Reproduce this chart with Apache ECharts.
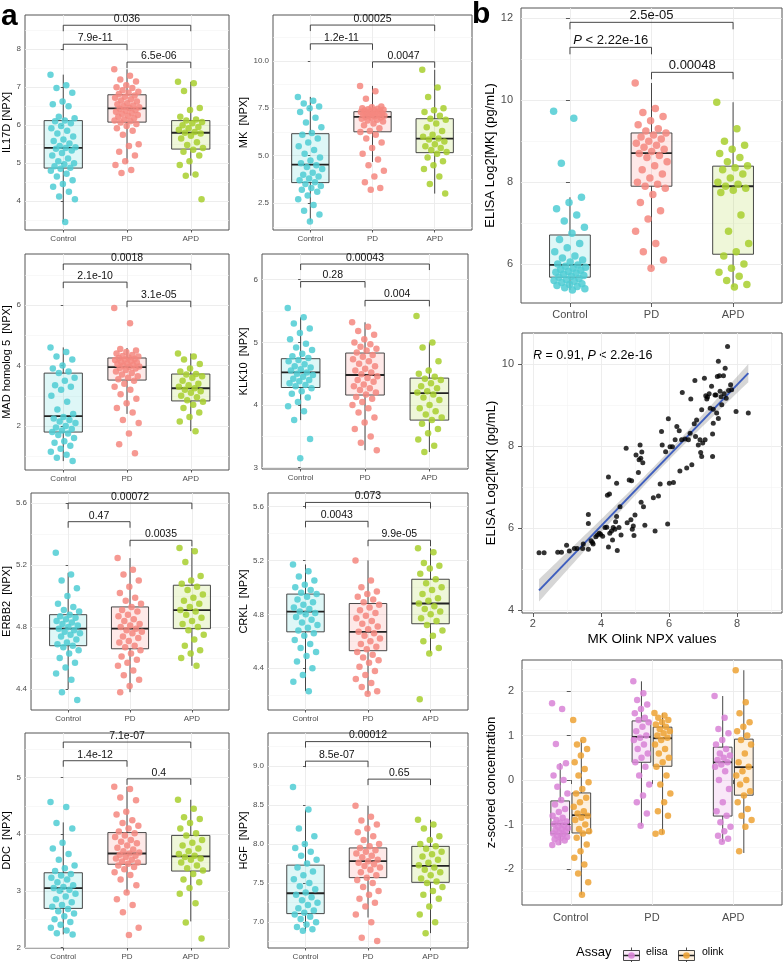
<!DOCTYPE html>
<html>
<head>
<meta charset="utf-8">
<script src="https://cdn.jsdelivr.net/npm/echarts@6/dist/echarts.min.js"></script>
<style>html,body{margin:0;padding:0;background:#fff}#main{width:784px;height:962px}</style>
</head>
<body>
<div id="main"></div>
<script>
// ---------- data ----------
var groups = ['Control', 'PD', 'APD']
var pairs = [[0, 1], [1, 2], [0, 2]]

var il17dControl = [7.33,7.05,6.98,6.85,6.62,6.55,6.50,6.22,6.18,6.12,6.10,6.05,5.98,5.92,5.85,5.78,5.70,5.62,5.58,5.52,5.45,5.42,5.40,5.38,5.33,5.27,5.20,5.12,5.05,5.00,4.97,4.92,4.88,4.85,4.80,4.72,4.65,4.55,4.45,4.38,4.25,4.12,4.05,3.45]
var il17dPD = [7.47,7.30,7.20,7.15,7.05,7.00,6.98,6.92,6.88,6.85,6.82,6.78,6.75,6.72,6.68,6.65,6.62,6.58,6.55,6.52,6.50,6.47,6.45,6.43,6.40,6.38,6.35,6.32,6.30,6.27,6.25,6.22,6.18,6.15,6.12,6.10,6.07,6.03,5.98,5.92,5.85,5.75,5.50,5.45,5.30,5.20,5.05,4.95,4.82,4.74]
var il17dAPD = [7.14,7.10,6.90,6.45,6.40,6.22,6.15,6.12,6.08,6.05,6.00,5.95,5.92,5.88,5.82,5.80,5.78,5.72,5.65,5.55,5.48,5.40,5.35,5.30,5.20,5.05,4.95,4.70,4.67,4.05]
var il17dBox = [[3.45,4.87,5.40,6.12,7.33],[5.00,6.08,6.44,6.80,7.47],[4.67,5.37,5.80,6.12,7.14]]
var il17dP = ['7.9e-11','6.5e-06','0.036']
var il17dPy = [8.13,7.66,8.63]
var il17dTicks = ['4','5','6','7','8']

var mkControl = [8.1,7.9,7.75,7.6,7.5,7.3,7.0,6.75,6.5,6.2,6.1,5.9,5.7,5.5,5.3,5.1,4.9,4.75,4.6,4.5,4.4,4.3,4.1,4.0,3.9,3.8,3.7,3.6,3.5,3.4,3.3,3.2,3.1,2.9,2.7,2.4,2.1,1.9,1.53]
var mkPD = [8.68,8.4,8.0,7.6,7.55,7.5,7.48,7.45,7.42,7.4,7.38,7.35,7.33,7.3,7.28,7.25,7.22,7.2,7.18,7.15,7.12,7.1,7.08,7.05,7.02,7.0,6.95,6.9,6.85,6.8,6.7,6.6,6.45,6.3,6.25,6.1,5.9,5.7,5.4,5.1,4.8,4.5,4.2,3.9,3.6,3.3,3.2]
var mkAPD = [9.53,8.6,8.1,7.5,7.4,7.3,7.1,6.95,6.9,6.7,6.5,6.3,6.1,6.0,5.9,5.85,5.75,5.6,5.5,5.4,5.3,5.2,5.1,4.9,4.7,4.5,4.3,3.9,3.5,3.0]
var mkBox = [[1.53,3.58,4.53,6.16,8.10],[4.67,6.26,7.05,7.32,8.68],[3.00,5.16,5.90,6.95,9.53]]
var mkP = ['1.2e-11','0.0047','0.00025']
var mkPy = [10.9,9.95,11.89]
var mkTicks = ['2.5','5.0','7.5','10.0']

var madControl = [4.6,4.45,4.3,4.2,4.0,3.9,3.8,3.75,3.6,3.5,3.35,3.3,3.2,3.0,2.8,2.55,2.4,2.3,2.25,2.2,2.15,2.1,2.0,1.95,1.9,1.85,1.8,1.75,1.7,1.6,1.5,1.45,1.35,1.25,1.15,1.05,0.95,0.84]
var madPD = [5.9,5.4,4.55,4.5,4.45,4.4,4.35,4.32,4.3,4.27,4.25,4.22,4.2,4.18,4.15,4.12,4.1,4.07,4.05,4.02,4.0,3.97,3.95,3.92,3.9,3.85,3.8,3.75,3.7,3.65,3.6,3.55,3.5,3.4,3.3,3.2,3.05,2.9,2.75,2.6,2.45,2.2,2.1,1.75,1.4,1.1]
var madAPD = [4.4,4.3,4.2,4.05,3.9,3.8,3.72,3.7,3.65,3.6,3.5,3.4,3.35,3.3,3.25,3.2,3.15,3.1,3.0,2.95,2.85,2.8,2.7,2.6,2.45,2.3,2.15,1.83]
var madBox = [[0.84,1.80,2.33,3.75,4.60],[2.40,3.52,3.95,4.25,4.58],[1.83,2.83,3.25,3.72,4.40]]
var madP = ['2.1e-10','3.1e-05','0.0018']
var madPy = [6.76,6.13,7.36]
var madTicks = ['2','4','6']

var klk10Control = [5.55,5.4,5.3,5.22,5.15,5.05,4.98,4.92,4.88,4.82,4.78,4.75,4.72,4.7,4.65,4.62,4.6,4.57,4.55,4.52,4.5,4.48,4.45,4.42,4.4,4.38,4.35,4.32,4.3,4.27,4.22,4.18,4.12,4.05,3.98,3.9,3.76,3.46,3.15]
var klk10PD = [5.32,5.25,5.18,5.12,5.05,5.0,4.97,4.93,4.9,4.87,4.84,4.8,4.77,4.73,4.7,4.66,4.62,4.58,4.55,4.52,4.49,4.46,4.43,4.4,4.37,4.33,4.3,4.27,4.24,4.2,4.17,4.13,4.1,4.05,4.0,3.95,3.88,3.8,3.72,3.62,3.5,3.4,3.28]
var klk10APD = [5.42,5.0,4.92,4.7,4.55,4.5,4.45,4.42,4.4,4.35,4.3,4.27,4.22,4.2,4.17,4.12,4.08,4.0,3.95,3.9,3.85,3.8,3.76,3.7,3.62,3.55,3.45,3.35,3.25]
var klk10Box = [[3.76,4.28,4.52,4.74,5.40],[3.28,4.16,4.48,4.83,5.32],[3.25,3.76,4.19,4.43,5.00]]
var klk10P = ['0.28','0.004','0.00043']
var klk10Py = [5.97,5.67,6.25]
var klk10Ticks = ['3','4','5','6']

var erbb2Control = [5.28,5.14,5.1,5.05,5.0,4.95,4.93,4.91,4.9,4.88,4.87,4.86,4.85,4.84,4.83,4.82,4.81,4.8,4.79,4.78,4.77,4.76,4.75,4.74,4.72,4.7,4.69,4.68,4.67,4.65,4.63,4.6,4.57,4.54,4.5,4.46,4.38,4.33]
var erbb2PD = [5.245,5.17,5.14,5.1,5.06,5.02,4.99,4.97,4.95,4.93,4.91,4.9,4.88,4.87,4.85,4.84,4.82,4.81,4.8,4.79,4.78,4.77,4.76,4.74,4.73,4.71,4.7,4.68,4.67,4.65,4.63,4.61,4.59,4.57,4.55,4.52,4.49,4.46,4.42,4.38]
var erbb2APD = [5.31,5.29,5.22,5.13,5.1,5.08,5.06,5.04,5.01,4.99,4.97,4.95,4.93,4.91,4.9,4.88,4.86,4.84,4.82,4.8,4.78,4.75,4.72,4.68,4.65,4.63,4.6,4.55]
var erbb2Box = [[4.40,4.68,4.79,4.88,5.15],[4.38,4.66,4.79,4.93,5.245],[4.55,4.79,4.91,5.07,5.31]]
var erbb2P = ['0.47','0.0035','0.00072']
var erbb2Py = [5.48,5.36,5.60]
var erbb2Ticks = ['4.4','4.8','5.2','5.6']

var crklControl = [5.17,5.12,5.08,5.05,5.02,5.0,4.98,4.96,4.95,4.93,4.91,4.89,4.87,4.85,4.84,4.82,4.81,4.8,4.78,4.76,4.74,4.72,4.7,4.68,4.66,4.64,4.61,4.58,4.55,4.52,4.49,4.45,4.4,4.35,4.3,4.23]
var crklPD = [5.2,5.05,5.0,4.97,4.95,4.93,4.91,4.89,4.87,4.85,4.83,4.81,4.79,4.77,4.75,4.73,4.71,4.69,4.67,4.66,4.64,4.62,4.6,4.58,4.56,4.54,4.52,4.5,4.48,4.46,4.44,4.41,4.38,4.35,4.32,4.29,4.26,4.23,4.21]
var crklAPD = [5.29,5.26,5.18,5.16,5.14,5.1,5.06,5.03,5.0,4.98,4.95,4.92,4.9,4.88,4.86,4.84,4.82,4.8,4.77,4.75,4.72,4.68,4.64,4.6,4.55,4.51,4.17]
var crklBox = [[4.23,4.67,4.82,4.95,5.17],[4.21,4.53,4.67,4.88,5.20],[4.51,4.73,4.88,5.06,5.29]]
var crklP = ['0.0043','9.9e-05','0.073']
var crklPy = [5.49,5.35,5.63]
var crklTicks = ['4.4','4.8','5.2','5.6']

var ddcControl = [4.57,4.48,4.2,4.1,3.85,3.75,3.65,3.55,3.45,3.4,3.35,3.3,3.27,3.23,3.2,3.15,3.1,3.07,3.05,3.02,3.0,2.95,2.9,2.85,2.8,2.75,2.72,2.68,2.64,2.6,2.55,2.5,2.45,2.4,2.35,2.3,2.25,2.23]
var ddcPD = [4.84,4.8,4.65,4.6,4.4,4.35,4.25,4.2,4.15,4.1,4.05,4.02,3.98,3.95,3.9,3.87,3.84,3.8,3.76,3.73,3.7,3.68,3.66,3.64,3.62,3.6,3.57,3.55,3.52,3.5,3.48,3.45,3.42,3.38,3.33,3.28,3.2,3.1,2.97,2.85,2.75,2.62,2.35,2.22]
var ddcAPD = [4.61,4.45,4.3,4.27,4.2,4.1,4.02,3.98,3.9,3.85,3.8,3.75,3.7,3.65,3.62,3.6,3.57,3.55,3.5,3.45,3.4,3.36,3.3,3.2,3.15,3.05,2.95,2.78,2.44,2.16]
var ddcBox = [[2.23,2.69,3.05,3.32,4.21],[2.97,3.47,3.66,4.03,4.84],[2.46,3.35,3.61,3.98,4.61]]
var ddcP = ['1.4e-12','0.4','7.1e-07']
var ddcPy = [5.30,4.98,5.63]
var ddcTicks = ['2','3','4','5']

var hgfControl = [8.73,8.44,8.2,8.1,8.0,7.95,7.9,7.85,7.8,7.75,7.7,7.65,7.6,7.55,7.5,7.46,7.42,7.38,7.35,7.32,7.28,7.25,7.22,7.18,7.15,7.12,7.1,7.07,7.04,7.0,6.97,6.94,6.91,6.89]
var hgfPD = [8.49,8.35,8.3,8.25,8.2,8.15,8.1,8.05,8.0,7.97,7.95,7.92,7.9,7.88,7.85,7.83,7.8,7.78,7.76,7.74,7.72,7.7,7.67,7.64,7.6,7.57,7.54,7.5,7.45,7.4,7.35,7.3,7.25,7.2,7.1,7.0,6.8,6.76]
var hgfAPD = [8.31,8.25,8.2,8.1,8.05,8.0,7.97,7.94,7.9,7.87,7.84,7.8,7.76,7.73,7.7,7.67,7.64,7.6,7.56,7.52,7.5,7.45,7.4,7.35,7.3,7.2,7.1,7.0,6.86]
var hgfBox = [[6.89,7.11,7.37,7.73,8.44],[7.06,7.57,7.78,7.95,8.49],[6.86,7.51,7.72,7.97,8.31]]
var hgfP = ['8.5e-07','0.65','0.00012']
var hgfPy = [9.06,8.83,9.31]
var hgfTicks = ['7.0','7.5','8.0','8.5','9.0']

var elisaControl = [9.73,9.56,8.46,7.63,7.5,7.35,7.2,7.05,6.9,6.75,6.6,6.5,6.4,6.3,6.2,6.15,6.1,6.05,6.0,5.98,5.95,5.92,5.9,5.87,5.85,5.82,5.8,5.78,5.75,5.72,5.7,5.68,5.65,5.62,5.6,5.58,5.55,5.52,5.5,5.48,5.45,5.42,5.4,5.37]
var elisaPD = [10.42,9.8,9.7,9.6,9.5,9.4,9.3,9.25,9.2,9.15,9.1,9.05,9.0,8.95,8.9,8.85,8.8,8.75,8.7,8.65,8.6,8.5,8.4,8.3,8.2,8.1,8.0,7.95,7.9,7.85,7.7,7.5,7.3,7.1,6.8,6.5,6.3,6.1,5.9]
var elisaAPD = [9.95,9.3,9.0,8.9,8.8,8.7,8.6,8.5,8.4,8.35,8.3,8.2,8.1,8.0,7.95,7.9,7.85,7.8,7.75,7.2,6.8,6.5,6.3,6.2,6.0,5.9,5.8,5.7,5.6,5.5,5.44]
var elisaBox = [[5.37,5.68,5.98,6.71,7.63],[5.90,7.90,8.71,9.20,10.42],[5.44,6.24,7.90,8.39,9.95]]
var elisaP = ['{i|P} < 2.22e-16','0.00048','2.5e-05']
var elisaPy = [11.29,10.68,11.9]
var elisaTicks = ['6','8','10','12']

// MK Olink NPX (x) vs ELISA Log2[MK] (y)
var mkOlink = [2.18,2.33,2.73,2.84,2.99,3.07,3.22,3.30,3.46,3.48,3.63,3.63,3.63,3.71,3.75,3.77,3.85,3.90,3.95,3.99,4.05,4.12,4.17,4.22,4.22,4.19,4.25,4.26,4.31,4.34,4.36,4.41,4.43,4.46,4.46,4.48,4.53,4.56,4.59,4.74,4.77,4.83,4.88,4.90,4.92,4.95,4.97,5.00,5.03,5.10,5.12,5.15,5.17,5.20,5.23,5.18,5.25,5.29,5.54,5.59,5.69,5.74,5.78,5.80,5.90,5.96,5.98,6.01,6.03,6.10,6.13,6.18,6.23,6.30,6.32,6.37,6.39,6.47,6.52,6.57,6.62,6.64,6.67,6.74,6.76,6.78,6.81,6.86,6.91,6.93,6.96,6.96,6.99,7.04,7.06,7.08,7.11,7.13,7.18,7.21,7.25,7.28,7.28,7.30,7.30,7.35,7.38,7.40,7.42,7.45,7.45,7.48,7.50,7.53,7.55,7.60,7.62,7.65,7.68,7.72,7.75,7.81,7.84,7.97,8.33]
var mkElisa = [5.40,5.40,5.41,5.41,5.58,5.44,5.50,5.50,5.50,5.61,5.48,6.11,6.33,5.69,5.65,5.61,5.79,5.83,5.87,5.85,5.80,6.01,6.02,5.54,7.24,6.80,6.83,5.87,5.93,5.71,6.01,5.97,6.15,6.28,7.09,5.45,6.01,6.52,5.83,7.94,6.13,7.17,6.20,7.15,5.97,6.05,5.82,6.32,7.78,7.35,7.66,8.02,7.70,7.85,7.59,6.63,6.52,6.07,6.74,5.93,6.78,7.07,8.35,8.02,7.86,6.10,8.66,7.09,7.98,7.98,7.11,8.15,8.47,8.37,7.39,8.15,9.30,8.17,7.46,8.15,8.31,9.14,7.54,8.54,9.59,8.23,8.63,8.02,8.15,7.84,8.88,7.74,8.07,9.65,8.15,9.22,9.14,9.19,9.27,8.92,9.45,8.29,7.74,8.55,8.89,9.24,9.24,8.80,9.69,8.67,10.06,9.71,9.33,9.20,9.00,9.71,9.27,9.89,9.16,10.42,9.35,9.49,9.37,8.84,8.80]
var mkTicksX = ['2','4','6','8']
var mkTicksY = ['4','6','8','10']

var assays = ['elisa', 'olink']
var zElisa = [
  [1.73,1.6,0.81,0.38,0.3,0.1,0.0,-0.15,-0.3,-0.45,-0.55,-0.65,-0.72,-0.8,-0.85,-0.9,-0.93,-0.96,-0.99,-1.02,-1.05,-1.08,-1.1,-1.12,-1.15,-1.18,-1.2,-1.22,-1.25,-1.28,-1.3,-1.33,-1.36,-1.4,-1.46],
  [2.22,1.95,1.8,1.7,1.6,1.5,1.4,1.35,1.3,1.2,1.1,1.0,0.95,0.9,0.8,0.7,0.6,0.5,0.4,0.3,0.1,-0.1,-0.35,-0.5,-0.75,-1.03],
  [1.89,1.4,1.15,1.05,0.9,0.8,0.7,0.6,0.55,0.5,0.45,0.4,0.35,0.3,0.2,0.0,-0.2,-0.5,-0.7,-0.8,-0.95,-1.05,-1.15,-1.25,-1.32,-1.39]
]
var zOlink = [
  [1.35,0.9,0.8,0.7,0.55,0.4,0.25,0.1,-0.05,-0.2,-0.3,-0.4,-0.5,-0.6,-0.7,-0.75,-0.8,-0.85,-0.9,-1.0,-1.1,-1.15,-1.2,-1.3,-1.45,-1.6,-1.75,-1.9,-2.1,-2.3,-2.58],
  [1.51,1.45,1.4,1.35,1.3,1.25,1.2,1.15,1.1,1.05,1.0,0.95,0.9,0.8,0.7,0.6,0.5,0.4,0.3,0.1,-0.1,-0.3,-0.5,-0.7,-0.8,-1.17,-1.21],
  [2.47,1.75,1.5,1.3,1.2,1.1,1.0,0.9,0.8,0.6,0.4,0.3,0.2,0.1,0.0,-0.1,-0.25,-0.35,-0.5,-0.65,-0.8,-0.9,-1.05,-1.6]
]
var zElisaBox = [[-1.46,-1.21,-0.99,-0.47,0.38],[-1.03,0.40,0.97,1.33,2.22],[-1.39,-0.81,0.40,0.74,1.89]]
var zOlinkBox = [[-2.58,-1.19,-0.79,-0.29,0.90],[-1.21,0.31,0.94,1.19,1.51],[-1.64,-0.34,0.29,0.92,2.47]]
var zTicks = ['-2','-1','0','1','2']

// ---------- helpers ----------
var FONT = 'Liberation Sans, Arial, Helvetica, sans-serif'
var groupColors = ['#4FCCD4', '#F5877F', '#A8CF2E']
var groupFills = ['rgba(0,191,196,0.13)', 'rgba(248,118,109,0.16)', 'rgba(163,209,27,0.17)']
var assayColors = ['#D883D6', '#EDA234']
var assayFills = ['rgba(218,112,214,0.16)', 'rgba(240,160,50,0.16)']

var chart = echarts.init(document.getElementById('main'))
var grids = [], xAxes = [], yAxes = [], series = []

function jitter(i, w) { return ((i * 0.6180339887) % 1 - 0.5) * 2 * w }

function nums(labels) { return labels.map(function (s) { return parseFloat(s) }) }

function fmt(labels) {
  var m = {}
  labels.forEach(function (s) { m[parseFloat(s).toFixed(4)] = s })
  return function (v) { var k = Number(v).toFixed(4); return m[k] !== undefined ? m[k] : '' }
}

function minorOf(vals, lo, hi) {
  var step = vals[1] - vals[0], out = []
  for (var v = vals[0] - step / 2; v <= hi + 1e-9; v += step) if (v >= lo) out.push(v)
  return out
}

function axisPair(dim, g, o) {
  var main = {
    type: 'value', gridIndex: g, min: o.min, max: o.max,
    name: o.name || '', nameLocation: 'middle', nameGap: o.nameGap || 0, nameRotate: dim === 'y' ? 90 : 0,
    nameTextStyle: { fontSize: o.nameSize || 11, color: '#000', fontFamily: FONT },
    axisLine: { show: false },
    axisTick: { show: true, length: o.tickLen, customValues: o.major, lineStyle: { color: '#333', width: 0.8 } },
    axisLabel: { customValues: o.major, formatter: o.fmt, fontSize: o.fontSize, color: '#4d4d4d', margin: o.margin, fontFamily: FONT },
    splitLine: { show: true, lineStyle: { color: '#ebebeb', width: 0.9 } }
  }
  var minor = {
    type: 'value', gridIndex: g, min: o.min, max: o.max,
    axisLine: { show: false }, axisLabel: { show: false },
    axisTick: { show: false, customValues: o.minor.length ? o.minor : [o.min] },
    splitLine: { show: o.minor.length > 0, lineStyle: { color: '#f4f4f4', width: 0.6 } }
  }
  return [main, minor]
}

function addGrid(rect) {
  grids.push({ left: rect[0], top: rect[1], width: rect[2], height: rect[3], show: true,
    borderColor: '#555', borderWidth: 1, backgroundColor: '#fff' })
  return grids.length - 1
}

function boxSeries(g, items, fills, hw) {
  return {
    type: 'custom', xAxisIndex: 2 * g, yAxisIndex: 2 * g, z: 2, silent: true,
    encode: { x: 0, y: [1, 2, 3, 4, 5] },
    data: items,
    renderItem: function (params, api) {
      var x = api.value(0)
      var l = api.coord([x - hw, api.value(2)])[0], r = api.coord([x + hw, api.value(2)])[0]
      var cx = api.coord([x, api.value(2)])[0]
      var yMin = api.coord([x, api.value(1)])[1], yQ1 = api.coord([x, api.value(2)])[1]
      var yMed = api.coord([x, api.value(3)])[1], yQ3 = api.coord([x, api.value(4)])[1]
      var yMax = api.coord([x, api.value(5)])[1]
      var st = { stroke: '#333', lineWidth: 0.9 }
      return { type: 'group', children: [
        { type: 'line', shape: { x1: cx, y1: yMax, x2: cx, y2: yQ3 }, style: st },
        { type: 'line', shape: { x1: cx, y1: yQ1, x2: cx, y2: yMin }, style: st },
        { type: 'rect', shape: { x: l, y: yQ3, width: r - l, height: yQ1 - yQ3 }, style: { fill: fills[params.dataIndex], stroke: '#333', lineWidth: 0.9 } },
        { type: 'line', shape: { x1: l, y1: yMed, x2: r, y2: yMed }, style: { stroke: '#222', lineWidth: 1.8 } }
      ] }
    }
  }
}

function pointSeries(g, xc, vals, color, w, size, op) {
  return {
    type: 'scatter', xAxisIndex: 2 * g, yAxisIndex: 2 * g, z: 3, silent: true,
    symbolSize: size, itemStyle: { color: color, opacity: op },
    data: vals.map(function (v, i) { return [xc + jitter(i, w), v] })
  }
}

function bracketSeries(g, labels, heights, drop, fontSize) {
  return {
    type: 'custom', xAxisIndex: 2 * g, yAxisIndex: 2 * g, z: 4, silent: true,
    encode: { x: [0, 1], y: 2 },
    data: pairs.map(function (p, i) { return [p[0], p[1], heights[i]] }),
    renderItem: function (params, api) {
      var a = api.coord([api.value(0), api.value(2)]), b = api.coord([api.value(1), api.value(2)])
      var h = api.coord([api.value(0), api.value(2) - drop])[1] - a[1]
      return { type: 'group', children: [
        { type: 'polyline', shape: { points: [[a[0], a[1] + h], [a[0], a[1]], [b[0], b[1]], [b[0], b[1] + h]] },
          style: { stroke: '#333', lineWidth: 0.9, fill: null } },
        { type: 'text', x: (a[0] + b[0]) / 2, y: a[1] - 0.5,
          style: { text: labels[params.dataIndex], align: 'center', verticalAlign: 'bottom', fontSize: fontSize,
            fontFamily: FONT, fill: '#111', rich: { i: { fontStyle: 'italic', fontSize: fontSize, fontFamily: FONT } } } }
      ] }
    }
  }
}

function catAxis(g, fontSize, margin, tickLen) {
  return axisPair('x', g, { min: -0.6, max: 2.6, major: [0, 1, 2], minor: [], tickLen: tickLen, margin: margin,
    fontSize: fontSize, fmt: function (v) { return groups[Math.round(v)] } })
}

// ---------- panel a ----------
var panelsA = [
  { pts: [il17dControl, il17dPD, il17dAPD], box: il17dBox, p: il17dP, py: il17dPy, ticks: il17dTicks, name: 'IL17D [NPX]', rect: [23, 15, 206, 215], y: [3.24, 8.9], gap: 13 },
  { pts: [mkControl, mkPD, mkAPD], box: mkBox, p: mkP, py: mkPy, ticks: mkTicks, name: 'MK  [NPX]', rect: [273, 15, 199, 215], y: [1.08, 12.42], gap: 23 },
  { pts: [madControl, madPD, madAPD], box: madBox, p: madP, py: madPy, ticks: madTicks, name: 'MAD homolog 5  [NPX]', rect: [23, 254, 206, 216], y: [0.545, 7.69], gap: 13 },
  { pts: [klk10Control, klk10PD, klk10APD], box: klk10Box, p: klk10P, py: klk10Py, ticks: klk10Ticks, name: 'KLK10  [NPX]', rect: [262, 254, 206, 215], y: [2.98, 6.41], gap: 12 },
  { pts: [erbb2Control, erbb2PD, erbb2APD], box: erbb2Box, p: erbb2P, py: erbb2Py, ticks: erbb2Ticks, name: 'ERBB2  [NPX]', rect: [29, 493, 200, 217], y: [4.265, 5.665], gap: 19 },
  { pts: [crklControl, crklPD, crklAPD], box: crklBox, p: crklP, py: crklPy, ticks: crklTicks, name: 'CRKL  [NPX]', rect: [268, 493, 200, 217], y: [4.09, 5.70], gap: 18 },
  { pts: [ddcControl, ddcPD, ddcAPD], box: ddcBox, p: ddcP, py: ddcPy, ticks: ddcTicks, name: 'DDC  [NPX]', rect: [23, 733, 206, 215], y: [1.99, 5.79], gap: 13 },
  { pts: [hgfControl, hgfPD, hgfAPD], box: hgfBox, p: hgfP, py: hgfPy, ticks: hgfTicks, name: 'HGF  [NPX]', rect: [268, 733, 200, 215], y: [6.67, 9.42], gap: 18 }
]

panelsA.forEach(function (pn) {
  var g = addGrid(pn.rect)
  var maj = nums(pn.ticks)
  xAxes.push.apply(xAxes, catAxis(g, 8, 5, 2.5))
  yAxes.push.apply(yAxes, axisPair('y', g, { min: pn.y[0], max: pn.y[1], major: maj, minor: minorOf(maj, pn.y[0], pn.y[1]),
    tickLen: 2.5, margin: 4, fontSize: 8, fmt: fmt(pn.ticks), name: pn.name, nameGap: pn.gap, nameSize: 11 }))
  series.push(boxSeries(g, pn.box.map(function (b, i) { return [i].concat(b) }), groupFills, 0.3))
  pn.pts.forEach(function (vals, i) { series.push(pointSeries(g, i, vals, groupColors[i], 0.2, 6.5, 0.85)) })
  series.push(bracketSeries(g, pn.p, pn.py, (pn.y[1] - pn.y[0]) * 0.028, 10.5))
})

// ---------- panel b: ELISA boxplot ----------
;(function () {
  var g = addGrid([521, 8, 261, 295])
  var maj = nums(elisaTicks)
  xAxes.push.apply(xAxes, catAxis(g, 11, 6, 4))
  yAxes.push.apply(yAxes, axisPair('y', g, { min: 5.05, max: 12.25, major: maj, minor: minorOf(maj, 5.05, 12.25),
    tickLen: 4, margin: 8, fontSize: 11, fmt: fmt(elisaTicks), name: 'ELISA Log2[MK] (pg/mL)', nameGap: 20, nameSize: 13 }))
  series.push(boxSeries(g, elisaBox.map(function (b, i) { return [i].concat(b) }), groupFills, 0.25))
  ;[elisaControl, elisaPD, elisaAPD].forEach(function (vals, i) { series.push(pointSeries(g, i, vals, groupColors[i], 0.2, 7.5, 0.85)) })
  series.push(bracketSeries(g, elisaP, elisaPy, 0.17, 13))
})()

// ---------- panel b: correlation scatter ----------
;(function () {
  var g = addGrid([522, 333, 260, 280])
  var mx = nums(mkTicksX), my = nums(mkTicksY)
  xAxes.push.apply(xAxes, axisPair('x', g, { min: 1.68, max: 9.32, major: mx, minor: minorOf(mx, 1.68, 9.32),
    tickLen: 4, margin: 5, fontSize: 11, fmt: fmt(mkTicksX), name: 'MK Olink NPX values', nameGap: 19, nameSize: 13.5 }))
  yAxes.push.apply(yAxes, axisPair('y', g, { min: 3.93, max: 10.75, major: my, minor: minorOf(my, 3.93, 10.75),
    tickLen: 4, margin: 8, fontSize: 11, fmt: fmt(mkTicksY), name: 'ELISA Log2[MK] (pg/mL)', nameGap: 21, nameSize: 13 }))

  // least squares fit with 95% confidence band
  var n = mkOlink.length, sx = 0, sy = 0
  for (var i = 0; i < n; i++) { sx += mkOlink[i]; sy += mkElisa[i] }
  var xbar = sx / n, ybar = sy / n, sxx = 0, sxy = 0
  for (i = 0; i < n; i++) { sxx += Math.pow(mkOlink[i] - xbar, 2); sxy += (mkOlink[i] - xbar) * (mkElisa[i] - ybar) }
  var slope = sxy / sxx, icpt = ybar - slope * xbar, sse = 0
  for (i = 0; i < n; i++) sse += Math.pow(mkElisa[i] - icpt - slope * mkOlink[i], 2)
  var s = Math.sqrt(sse / (n - 2)), t = 1.98
  var x0 = Math.min.apply(null, mkOlink), x1 = Math.max.apply(null, mkOlink)

  series.push({
    type: 'custom', xAxisIndex: 2 * g, yAxisIndex: 2 * g, z: 2, silent: true,
    encode: { x: [0, 1] }, data: [[x0, x1]],
    renderItem: function (params, api) {
      var up = [], lo = [], steps = 60
      for (var k = 0; k <= steps; k++) {
        var xv = x0 + (x1 - x0) * k / steps
        var fit = icpt + slope * xv
        var se = s * Math.sqrt(1 / n + Math.pow(xv - xbar, 2) / sxx)
        up.push(api.coord([xv, fit + t * se]))
        lo.unshift(api.coord([xv, fit - t * se]))
      }
      var p0 = api.coord([x0, icpt + slope * x0]), p1 = api.coord([x1, icpt + slope * x1])
      return { type: 'group', children: [
        { type: 'polygon', shape: { points: up.concat(lo) }, style: { fill: 'rgba(153,153,153,0.4)' } },
        { type: 'line', shape: { x1: p0[0], y1: p0[1], x2: p1[0], y2: p1[1] }, style: { stroke: '#3F5FBF', lineWidth: 2 } }
      ] }
    }
  })
  series.push({
    type: 'scatter', xAxisIndex: 2 * g, yAxisIndex: 2 * g, z: 3, silent: true, symbolSize: 5,
    itemStyle: { color: '#000' },
    data: mkOlink.map(function (v, k) { return [v, mkElisa[k]] })
  })
})()

// ---------- panel b: z-scored elisa vs olink ----------
;(function () {
  var g = addGrid([522, 660, 260, 245])
  var maj = nums(zTicks)
  xAxes.push.apply(xAxes, catAxis(g, 11, 7, 4))
  yAxes.push.apply(yAxes, axisPair('y', g, { min: -2.81, max: 2.70, major: maj, minor: minorOf(maj, -2.81, 2.70),
    tickLen: 4, margin: 8, fontSize: 11, fmt: fmt(zTicks), name: 'z-scored concentration', nameGap: 24, nameSize: 13 }))
  var dodge = [-0.13, 0.13]
  ;[zElisaBox, zOlinkBox].forEach(function (boxes, a) {
    series.push(boxSeries(g, boxes.map(function (b, i) { return [i + dodge[a]].concat(b) }),
      [assayFills[a], assayFills[a], assayFills[a]], 0.115))
  })
  ;[zElisa, zOlink].forEach(function (sets, a) {
    sets.forEach(function (vals, i) {
      var sr = pointSeries(g, i + dodge[a], vals, assayColors[a], 0.1, 6.5, 0.85)
      sr.name = assays[a]
      series.push(sr)
    })
  })
})()

// ---------- annotations and legend ----------
function legendKey(x, a) {
  return { type: 'group', left: x, top: 945, children: [
    { type: 'line', shape: { x1: 8, y1: 0, x2: 8, y2: 3 }, style: { stroke: '#333', lineWidth: 0.9 } },
    { type: 'line', shape: { x1: 8, y1: 13, x2: 8, y2: 16 }, style: { stroke: '#333', lineWidth: 0.9 } },
    { type: 'rect', shape: { x: 0, y: 3, width: 16, height: 10 }, style: { fill: assayFills[a], stroke: '#333', lineWidth: 0.9 } },
    { type: 'line', shape: { x1: 0, y1: 8, x2: 16, y2: 8 }, style: { stroke: '#222', lineWidth: 1.5 } },
    { type: 'circle', shape: { cx: 8, cy: 8, r: 3.3 }, style: { fill: assayColors[a], opacity: 0.9 } }
  ] }
}

var graphics = [
  { type: 'text', left: 1, top: 2, style: { text: 'a', font: 'bold 30px ' + FONT, fill: '#000' } },
  { type: 'text', left: 472, top: 0, style: { text: 'b', font: 'bold 30px ' + FONT, fill: '#000' } },
  { type: 'text', left: 533, top: 349, style: { text: '{i|R} = 0.91, {i|P} < 2.2e-16', fontSize: 12.5, fontFamily: FONT, fill: '#000',
    rich: { i: { fontStyle: 'italic', fontSize: 12.5, fontFamily: FONT } } } },
  { type: 'text', left: 576, top: 946, style: { text: 'Assay', fontSize: 13, fontFamily: FONT, fill: '#000' } },
  legendKey(621, 0),
  { type: 'text', left: 646, top: 947, style: { text: assays[0], fontSize: 10.5, fontFamily: FONT, fill: '#000' } },
  legendKey(676, 1),
  { type: 'text', left: 702, top: 947, style: { text: assays[1], fontSize: 10.5, fontFamily: FONT, fill: '#000' } }
]

var option = {
  animation: false,
  backgroundColor: '#fff',
  textStyle: { fontFamily: FONT },
  grid: grids,
  xAxis: xAxes,
  yAxis: yAxes,
  series: series,
  graphic: graphics
}

option && chart.setOption(option)
</script>
</body>
</html>
